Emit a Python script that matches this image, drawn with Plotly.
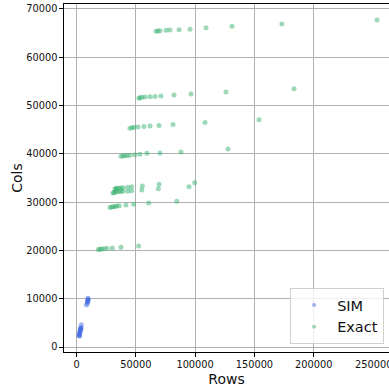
import plotly.graph_objects as go

# SIM series
sim_rows = [9700, 9800, 9600, 9500, 9300, 9200, 8400,
            2200, 2400, 2600, 2800, 3000, 3100, 3300, 3500, 3600, 3800, 4100, 2500]
sim_cols = [10100, 9900, 9700, 9500, 9300, 9100, 8700,
            2400, 2500, 2800, 3000, 3200, 3400, 3600, 3800, 3900, 4000, 4600, 2300]

# Exact series (clusters)
exact_rows = [
    18500, 19800, 21200, 23200, 25700, 30200, 37500, 52400,
    28200, 29700, 31000, 32500, 33900, 36100, 41700, 48200, 60900, 84500,
    30800, 31600, 32500, 34100, 35800, 37500, 39200,
    32500, 33300, 34100, 35800, 37500, 39200,
    43200, 46500, 55000, 69000, 94900,
    43200, 46500, 55500, 69600, 99700,
    37500, 39200, 40900, 42600, 45100, 49300, 53500, 59400, 70400, 88100, 127700,
    45100, 46800, 48500, 51900, 56900, 62000, 69600, 81400, 108400, 153900,
    52700, 53500, 55200, 57800, 62000, 66200, 71200, 82200, 96500, 126000, 183400,
    67000, 68700, 70400, 75500, 78800, 86500, 95700, 109200, 131100, 173200, 253400,
]
exact_cols = [
    20200, 20250, 20290, 20350, 20430, 20500, 20640, 20900,
    28900, 29000, 29040, 29120, 29190, 29250, 29400, 29540, 29800, 30160,
    31900, 32000, 32100, 32150, 32200, 32220, 32230,
    32700, 32800, 32850, 32900, 32950, 33000,
    32230, 32350, 32500, 32780, 33180,
    33060, 33180, 33330, 33680, 34010,
    39500, 39560, 39600, 39650, 39700, 39800, 39900, 40100, 40160, 40400, 41000,
    45300, 45400, 45500, 45540, 45650, 45750, 45890, 46100, 46470, 47050,
    51500, 51600, 51700, 51750, 51800, 51900, 51960, 52200, 52400, 52800, 53500,
    65400, 65450, 65500, 65600, 65650, 65700, 65800, 66100, 66400, 66900, 67700,
]

x_ticks = [0, 50000, 100000, 150000, 200000, 250000]
y_ticks = [0, 10000, 20000, 30000, 40000, 50000, 60000, 70000]

SIM_C = "rgba(65,105,225,0.5)"
EXA_C = "rgba(60,179,113,0.5)"
FONT = "DejaVu Sans"
TICK_SIZE = 9.8

fig = go.Figure()
fig.add_trace(go.Scatter(x=sim_rows, y=sim_cols, mode="markers", showlegend=False,
                         marker=dict(size=5, color=SIM_C, line=dict(width=0))))
fig.add_trace(go.Scatter(x=exact_rows, y=exact_cols, mode="markers", showlegend=False,
                         marker=dict(size=5, color=EXA_C, line=dict(width=0))))
# legend entries
fig.add_trace(go.Scatter(x=[None], y=[None], mode="markers", name="SIM",
                         marker=dict(size=4, color=SIM_C, line=dict(width=0))))
fig.add_trace(go.Scatter(x=[None], y=[None], mode="markers", name="Exact",
                         marker=dict(size=4, color=EXA_C, line=dict(width=0))))

axis_common = dict(
    showgrid=True, gridcolor="#b0b0b0", gridwidth=1,
    zeroline=False, showline=True, linecolor="black", linewidth=1.2,
    ticks="outside", ticklen=3.5, tickcolor="black", tickwidth=1,
    tickfont=dict(family=FONT, size=TICK_SIZE, color="#111"),
    automargin=False,
)

# the last x tick label is partly cut off by the figure edge in the original;
# plotly hides overflowing tick labels, so draw it as an annotation instead
annotations = [dict(x=x_ticks[-1], y=0, xref="x", yref="paper", yanchor="top",
                    yshift=-5, text=str(x_ticks[-1]), showarrow=False,
                    font=dict(family=FONT, size=TICK_SIZE, color="#111"))]

fig.update_layout(
    width=389, height=388,
    margin=dict(l=64, r=0, t=4, b=36),
    paper_bgcolor="white", plot_bgcolor="white",
    font=dict(family=FONT, color="#111"),
    annotations=annotations,
    xaxis=dict(range=[-10540, 263490], tickvals=x_ticks[:-1],
               ticktext=[str(v) for v in x_ticks[:-1]], mirror=True,
               title=dict(text="Rows", font=dict(family=FONT, size=14), standoff=4),
               **axis_common),
    yaxis=dict(range=[-1035, 71030], tickvals=y_ticks,
               ticktext=[str(v) for v in y_ticks],
               title=dict(text="Cols", font=dict(family=FONT, size=14), standoff=0),
               **axis_common),
    legend=dict(x=0.985, y=0.023, xanchor="right", yanchor="bottom",
                bgcolor="rgba(255,255,255,0.8)", bordercolor="#d0d0d0", borderwidth=1,
                font=dict(family=FONT, size=14.5, color="#111"),
                itemwidth=36),
)

fig.write_html("out.html")
